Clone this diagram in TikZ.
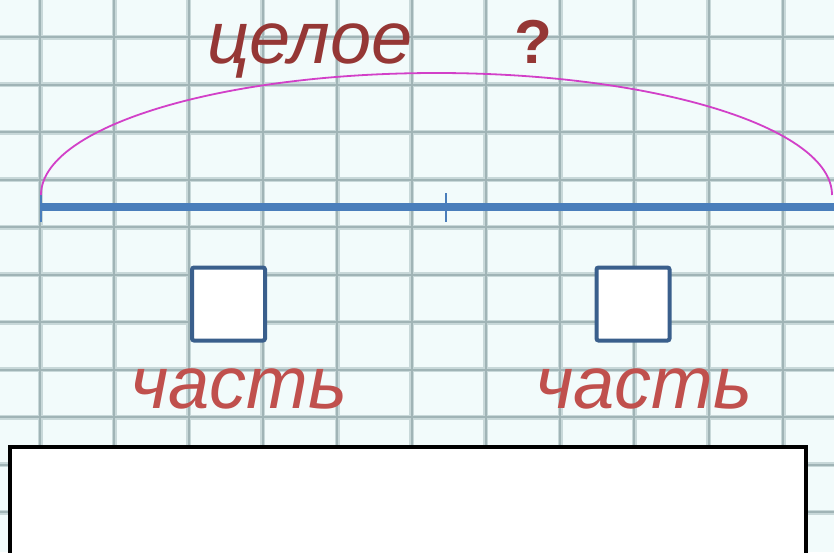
\documentclass[tikz,border=0pt]{standalone}
\usepackage{fontspec}
\setmainfont{Liberation Sans}
\definecolor{bgc}{RGB}{242,251,251}
\definecolor{gridsoft}{RGB}{200,216,217}
\definecolor{gridc}{RGB}{160,180,182}
\definecolor{segblue}{RGB}{74,126,187}
\definecolor{boxblue}{RGB}{58,95,140}
\definecolor{arcmag}{RGB}{210,64,200}
\definecolor{wholered}{RGB}{149,55,53}
\definecolor{partred}{RGB}{192,80,77}
\tikzset{
  gridhalo/.style={draw=gridsoft, line width=5pt},
  gridline/.style={draw=gridc, line width=2pt},
  segment/.style={draw=segblue, line width=8pt},
  tickmark/.style={draw=segblue, line width=1.6pt},
  wholearc/.style={draw=arcmag, line width=1.8pt},
  partbox/.style={draw=boxblue, fill=white, line width=4pt, rounded corners=2pt, minimum size=73pt, inner sep=0pt},
  wholelbl/.style={text=wholered, font=\fontsize{74}{88}\selectfont\itshape, anchor=base, inner sep=0pt},
  qlbl/.style={text=wholered, font=\fontsize{62}{74}\selectfont\bfseries, anchor=base, inner sep=0pt},
  partlbl/.style={text=partred, font=\fontsize{74}{88}\selectfont\itshape, anchor=base, inner sep=0pt},
  answerbox/.style={draw=black, fill=white, line width=4.5pt}
}
\begin{document}
\begin{tikzpicture}[x=1pt,y=-1pt]
\useasboundingbox (0,0) rectangle (834,552);
\fill[bgc] (0,0) rectangle (834,552);
\foreach \i in {0,...,10} \draw[gridhalo] ({40+74.3*\i},0) -- ({40+74.3*\i},552);
\foreach \j in {0,...,10} \draw[gridhalo] (0,{37+47.5*\j}) -- (834,{37+47.5*\j});
\foreach \i in {0,...,10} \draw[gridline] ({40+74.3*\i},0) -- ({40+74.3*\i},552);
\foreach \j in {0,...,10} \draw[gridline] (0,{37+47.5*\j}) -- (834,{37+47.5*\j});
% segment
\coordinate (L) at (41,207);
\coordinate (M) at (446,207);
\coordinate (R) at (834,207);
\coordinate (Lt) at (41,193);
\coordinate (Lb) at (41,222);
\coordinate (Mt) at (446,193);
\coordinate (Mb) at (446,222);
\coordinate (A) at (41,195);
\draw[segment] (L) -- (R);
\draw[tickmark] (Lt) -- (Lb);
\draw[tickmark] (Mt) -- (Mb);
\draw[wholearc] (A) arc[start angle=180, end angle=0, x radius=395.5pt, y radius=122pt];
% labels
\node[wholelbl] (whole) at (310,63) {целое};
\node[qlbl] (q) at (533,63) {?};
\node[partbox] (b1) at (228.5,304) {};
\node[partbox] (b2) at (633,304) {};
\node[partlbl] (p1) at (239,408) {часть};
\node[partlbl] (p2) at (644,408) {часть};
\draw[answerbox] (10,447) rectangle (806,562);
\end{tikzpicture}
\end{document}
